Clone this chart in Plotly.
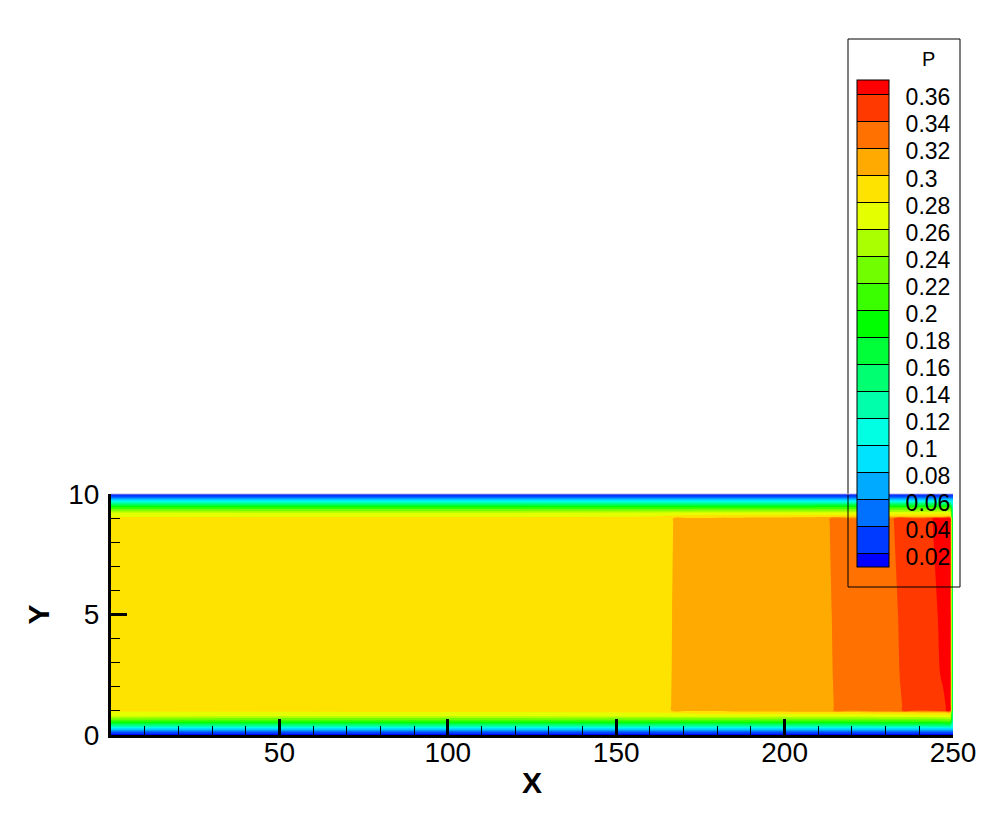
import plotly.graph_objects as go

# ---- data ----
x_vals = [0, 160, 172, 208, 220, 228, 240, 243, 247, 249.2, 250]
y_vals = [0, 0.1, 0.3, 0.55, 0.78, 0.92, 1.02, 1.2, 2.5, 5.0, 8.8, 8.98, 9.08, 9.22, 9.45, 9.7, 9.9, 10]

P_y000 = [0.008, 0.008, 0.008, 0.008, 0.008, 0.008, 0.008, 0.008, 0.008, 0.008, 0.008]
P_y010 = [0.035, 0.035, 0.035, 0.035, 0.035, 0.035, 0.035, 0.035, 0.035, 0.035, 0.035]
P_y030 = [0.105, 0.105, 0.105, 0.105, 0.105, 0.105, 0.105, 0.105, 0.105, 0.105, 0.105]
P_y055 = [0.200, 0.200, 0.201, 0.202, 0.203, 0.204, 0.205, 0.206, 0.207, 0.207, 0.12]
P_y078 = [0.262, 0.262, 0.265, 0.266, 0.267, 0.268, 0.270, 0.271, 0.272, 0.272, 0.12]
P_y092 = [0.276, 0.277, 0.286, 0.288, 0.289, 0.290, 0.291, 0.292, 0.292, 0.292, 0.12]
P_y102 = [0.284, 0.2958, 0.3038, 0.3156, 0.3236, 0.3354, 0.3434, 0.347, 0.356, 0.3655, 0.12]
P_y120 = [0.290, 0.2958, 0.3038, 0.3156, 0.3236, 0.3354, 0.3434, 0.347, 0.356, 0.3665, 0.12]
P_y250 = [0.290, 0.2957, 0.3037, 0.3158, 0.3238, 0.336, 0.3438, 0.3495, 0.3625, 0.371, 0.12]
P_y500 = [0.290, 0.2956, 0.3036, 0.316, 0.324, 0.3364, 0.344, 0.352, 0.365, 0.372, 0.12]
P_y880 = [0.290, 0.2954, 0.3034, 0.3164, 0.3244, 0.337, 0.345, 0.357, 0.369, 0.372, 0.12]
P_y898 = [0.285, 0.2954, 0.3034, 0.3164, 0.3244, 0.337, 0.345, 0.357, 0.369, 0.370, 0.12]
P_y908 = [0.277, 0.278, 0.287, 0.289, 0.290, 0.291, 0.292, 0.293, 0.293, 0.293, 0.12]
P_y922 = [0.262, 0.262, 0.265, 0.266, 0.267, 0.268, 0.270, 0.271, 0.272, 0.272, 0.12]
P_y945 = [0.200, 0.200, 0.201, 0.202, 0.203, 0.204, 0.205, 0.206, 0.207, 0.207, 0.12]
P_y970 = [0.105, 0.105, 0.105, 0.105, 0.105, 0.105, 0.105, 0.105, 0.105, 0.105, 0.105]
P_y990 = [0.035, 0.035, 0.035, 0.035, 0.035, 0.035, 0.035, 0.035, 0.035, 0.035, 0.035]
P_y1000 = [0.008, 0.008, 0.008, 0.008, 0.008, 0.008, 0.008, 0.008, 0.008, 0.008, 0.008]

level_start = 0.02
level_end = 0.36
level_step = 0.02
level_labels = ["0.02", "0.04", "0.06", "0.08", "0.1", "0.12", "0.14", "0.16", "0.18",
                "0.2", "0.22", "0.24", "0.26", "0.28", "0.3", "0.32", "0.34", "0.36"]
level_values = [0.02, 0.04, 0.06, 0.08, 0.10, 0.12, 0.14, 0.16, 0.18,
                0.20, 0.22, 0.24, 0.26, 0.28, 0.30, 0.32, 0.34, 0.36]
x_ticks = [50, 100, 150, 200, 250]
y_ticks = [0, 5, 10]

P = [P_y000, P_y010, P_y030, P_y055, P_y078, P_y092, P_y102, P_y120, P_y250, P_y500,
     P_y880, P_y898, P_y908, P_y922, P_y945, P_y970, P_y990, P_y1000]

rainbow = [[0.0, "rgb(0,0,255)"], [0.25, "rgb(0,255,255)"], [0.5, "rgb(0,255,0)"],
           [0.75, "rgb(255,255,0)"], [1.0, "rgb(255,0,0)"]]

FONT = "Liberation Sans, Arial, sans-serif"
OFF = 8  # page body margin
W, H = 989 - OFF, 834 - OFF
L, R, T, B = 111 - OFF, 36, 494 - OFF, 99
pw = W - L - R
ph = H - T - B

# Tecplot draws legend labels slightly below their level line
LABEL_DROP = 0.0028
label_pos = [v - LABEL_DROP for v in level_values]


def px_x(px):  # screenshot pixel -> paper x
    return (px - OFF - L) / pw


def px_y(py):  # screenshot pixel -> paper y
    return (H - B - (py - OFF)) / ph


contours = dict(start=level_start, end=level_end, size=level_step, coloring="fill")

fig = go.Figure()
fig.add_trace(go.Contour(
    x=x_vals, y=y_vals, z=P, colorscale=rainbow, autocontour=False,
    contours=dict(contours, showlines=False), line=dict(width=0),
    showscale=False, hoverinfo="skip"))

# duplicate used only to render the legend bar (with lines between levels)
fig.add_trace(go.Contour(
    x=x_vals, y=y_vals, z=P, colorscale=rainbow, autocontour=False,
    contours=dict(contours, showlines=True), line=dict(width=1, color="black"),
    xaxis="x2", yaxis="y2", hoverinfo="skip",
    showscale=True,
    colorbar=dict(
        x=px_x(857), xanchor="left", y=px_y(80), yanchor="top",
        len=487, lenmode="pixels", thickness=32, thicknessmode="pixels",
        xpad=0, ypad=0, outlinewidth=1, outlinecolor="black", borderwidth=0,
        tickmode="array", tickvals=label_pos, ticktext=level_labels,
        ticks="outside", ticklen=12, tickcolor="rgba(0,0,0,0)",
        tickfont=dict(family=FONT, size=23, color="black"),
    )))

fig.update_layout(
    width=W, height=H,
    margin=dict(l=L, r=R, t=T, b=B, pad=0),
    paper_bgcolor="white", plot_bgcolor="white",
    showlegend=False,
    font=dict(family=FONT, color="black"),
    xaxis=dict(
        range=[0, 250], showgrid=False, zeroline=False,
        showline=True, linecolor="black", linewidth=3,
        tickmode="array", tickvals=x_ticks,
        ticks="inside", ticklen=16, tickwidth=3, tickcolor="black",
        minor=dict(tickmode="linear", tick0=0, dtick=10, ticks="inside",
                   ticklen=9, tickwidth=1, tickcolor="black"),
        tickfont=dict(family=FONT, size=28, color="black"),
        ticklabelstandoff=-10,
        title=dict(text="X", font=dict(family=FONT, size=30, color="black", weight="bold"),
                   standoff=6),
    ),
    yaxis=dict(
        range=[0, 10], showgrid=False, zeroline=False,
        showline=True, linecolor="black", linewidth=3,
        tickmode="array", tickvals=y_ticks,
        ticks="inside", ticklen=16, tickwidth=3, tickcolor="black",
        minor=dict(tickmode="linear", tick0=0, dtick=1, ticks="inside",
                   ticklen=9, tickwidth=1, tickcolor="black"),
        tickfont=dict(family=FONT, size=28, color="black"),
        ticklabelstandoff=3,
        title=dict(text="Y", font=dict(family=FONT, size=30, color="black", weight="bold"),
                   standoff=10),
    ),
    xaxis2=dict(visible=False, range=[1000, 1001], overlaying="x", anchor="y2"),
    yaxis2=dict(visible=False, range=[1000, 1001], overlaying="y", anchor="x2"),
    shapes=[
        dict(type="rect", xref="paper", yref="paper",
             x0=px_x(848), x1=px_x(960), y0=px_y(587), y1=px_y(39),
             line=dict(color="black", width=1), fillcolor="rgba(0,0,0,0)", layer="above"),
        dict(type="line", xref="paper", yref="paper", x0=0, x1=1, y0=1, y1=1,
             line=dict(color="rgb(176,184,232)", width=1), layer="above"),
    ],
    annotations=[
        dict(text="P", xref="paper", yref="paper", x=px_x(928), y=px_y(59),
             xanchor="center", yanchor="middle", showarrow=False,
             font=dict(family=FONT, size=20, color="black")),
    ],
)

fig.write_html("out.html")
